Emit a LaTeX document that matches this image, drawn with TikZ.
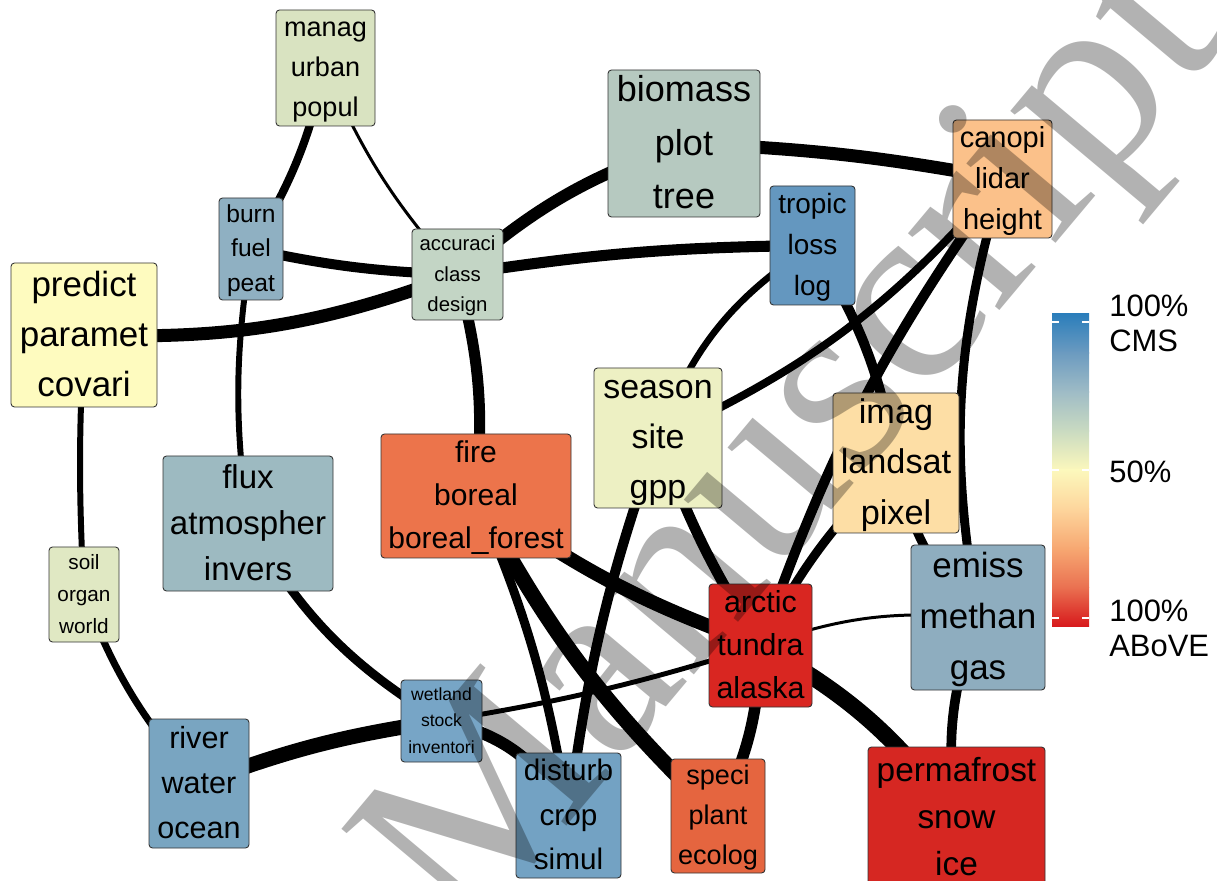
\documentclass[tikz,border=0pt]{standalone}
\usepackage{fontspec}
\setmainfont{Liberation Sans}
\newfontfamily\wmfont{Liberation Serif}
\usetikzlibrary{positioning}
\pgfdeclarelayer{background}
\pgfdeclarelayer{foreground}
\pgfsetlayers{background,main,foreground}

\definecolor{cManag}{HTML}{D9E3C1}
\definecolor{cBiomass}{HTML}{B6C9C0}
\definecolor{cCanopi}{HTML}{FBC18A}
\definecolor{cBurn}{HTML}{8FB0C2}
\definecolor{cAccuraci}{HTML}{C3D5C5}
\definecolor{cTropic}{HTML}{6497BF}
\definecolor{cPredict}{HTML}{FEFBBF}
\definecolor{cSeason}{HTML}{EDF0C3}
\definecolor{cImag}{HTML}{FDDEA5}
\definecolor{cFlux}{HTML}{9DBAC1}
\definecolor{cFire}{HTML}{EC744B}
\definecolor{cSoil}{HTML}{E0E8C3}
\definecolor{cEmiss}{HTML}{8EADBF}
\definecolor{cArctic}{HTML}{D92621}
\definecolor{cWetland}{HTML}{77A5C6}
\definecolor{cRiver}{HTML}{79A5C1}
\definecolor{cDisturb}{HTML}{73A2C3}
\definecolor{cSpeci}{HTML}{E5653F}
\definecolor{cPerma}{HTML}{D62722}
% colour bar stops, top to bottom
\definecolor{lg0}{HTML}{2B7EBB}
\definecolor{lg1}{HTML}{6C9BC0}
\definecolor{lg2}{HTML}{9FBCC6}
\definecolor{lg3}{HTML}{CADBC1}
\definecolor{lg4}{HTML}{FCF8BC}
\definecolor{lg5}{HTML}{FDD59C}
\definecolor{lg6}{HTML}{F7A872}
\definecolor{lg7}{HTML}{EA7151}
\definecolor{lg8}{HTML}{D7191C}

% three stemmed words, one per line, with fixed top and bottom
\newcommand{\kw}[3]{\rule{0pt}{0.88em}#1\\#2\\#3\rule[-0.24em]{0pt}{0pt}}

\begin{document}
\begin{tikzpicture}[x=0.02cm, y=-0.02cm,
    topic/.style={draw=black!80, rounded corners=2pt, line width=0.5pt, align=center, inner sep=0pt},
    box/.style 2 args={minimum width=#1*0.02cm, minimum height=#2*0.02cm},
    fs/.style 2 args={font=\fontsize{#1}{#2}\selectfont},
    link/.style={line width=#1}]
    \useasboundingbox (0,0) rectangle (1217,881);

    % topics
    \node[topic, box={99}{116}, fs={15.4}{22.8}, fill=cManag] (manag) at (325.5,68) {\kw{manag}{urban}{popul}};
    \node[topic, box={152}{147}, fs={20.5}{30.2}, fill=cBiomass] (biomass) at (684,143.5) {\kw{biomass}{plot}{tree}};
    \node[topic, box={99}{118}, fs={16.5}{23.3}, fill=cCanopi] (canopi) at (1002.5,179) {\kw{canopi}{lidar}{height}};
    \node[topic, box={64}{102}, fs={14}{19.6}, fill=cBurn] (burn) at (251,249) {\kw{burn}{fuel}{peat}};
    \node[topic, box={91}{91}, fs={11.6}{17.4}, fill=cAccuraci] (accuraci) at (457.5,274.5) {\kw{accuraci}{class}{design}};
    \node[topic, box={85}{119}, fs={15.9}{23.3}, fill=cTropic] (tropic) at (812.5,245.5) {\kw{tropic}{loss}{log}};
    \node[topic, box={146}{144}, fs={19.9}{28.5}, fill=cPredict] (predict) at (84,335) {\kw{predict}{paramet}{covari}};
    \node[topic, box={128}{140}, fs={19.3}{28.5}, fill=cSeason] (season) at (658,438) {\kw{season}{site}{gpp}};
    \node[topic, box={126}{140}, fs={19.5}{28.8}, fill=cImag] (imag) at (896,463) {\kw{imag}{landsat}{pixel}};
    \node[topic, box={170}{135}, fs={18.8}{26.2}, fill=cFlux] (flux) at (248,523.5) {\kw{flux}{atmospher}{invers}};
    \node[topic, box={190}{124}, fs={17.1}{24.5}, fill=cFire] (fire) at (476,496) {\kw{fire}{boreal}{boreal\_forest}};
    \node[topic, box={70}{95}, fs={11.8}{18.2}, fill=cSoil] (soil) at (84,594.5) {\kw{soil}{organ}{world}};
    \node[topic, box={134}{145}, fs={19.9}{29}, fill=cEmiss] (emiss) at (978,617.5) {\kw{emiss}{methan}{gas}};
    \node[topic, box={103}{123}, fs={17.3}{24.5}, fill=cArctic] (arctic) at (760.5,645.5) {\kw{arctic}{tundra}{alaska}};
    \node[topic, box={81}{82}, fs={10}{15.1}, fill=cWetland] (wetland) at (441.5,721) {\kw{wetland}{stock}{inventori}};
    \node[topic, box={100}{129}, fs={17.4}{25.6}, fill=cRiver] (river) at (199,783.5) {\kw{river}{water}{ocean}};
    \node[topic, box={105}{125}, fs={16.9}{25.3}, fill=cDisturb] (disturb) at (568.5,815.5) {\kw{disturb}{crop}{simul}};
    \node[topic, box={94}{114}, fs={15.4}{22.8}, fill=cSpeci] (speci) at (718,816) {\kw{speci}{plant}{ecolog}};
    \node[topic, box={177}{142}, fs={19}{26.7}, fill=cPerma] (permafrost) at (956.5,818) {\kw{permafrost}{snow}{ice}};

    % links, centre to centre, under the boxes
    \begin{pgfonlayer}{background}
    \draw[link=4.6pt] (manag.center) to[bend left=9] (burn.center);
    \draw[link=1.7pt] (manag.center) to[bend right=9] (accuraci.center);
    \draw[link=5.7pt] (burn.center) to[bend right=5] (accuraci.center);
    \draw[link=7.4pt] (predict.center) to[bend right=11] (accuraci.center);
    \draw[link=6.8pt] (accuraci.center) to[bend left=11] (biomass.center);
    \draw[link=6.3pt] (accuraci.center) to[bend left=4] (tropic.center);
    \draw[link=7.4pt] (biomass.center) to[bend left=4] (canopi.center);
    \draw[link=3.4pt] (burn.center) to[bend right=8] (flux.center);
    \draw[link=3.4pt] (predict.center) to[bend right=3] (soil.center);
    \draw[link=4pt] (soil.center) to[bend right=10] (river.center);
    \draw[link=5.1pt] (flux.center) to[bend right=14] (wetland.center);
    \draw[link=8.5pt] (river.center) to[bend left=6] (wetland.center);
    \draw[link=6.8pt] (wetland.center) to[bend left=25] (disturb.center);
    \draw[link=2.8pt] (wetland.center) to[bend right=4] (arctic.center);
    \draw[link=6.3pt] (accuraci.center) to[bend left=10] (fire.center);
    \draw[link=3.8pt] (season.center) to[bend left=18] (tropic.center);
    \draw[link=4.5pt] (season.center) to[bend right=12] (canopi.center);
    \draw[link=5.7pt] (tropic.center) to[bend left=11] (imag.center);
    \draw[link=5.7pt] (canopi.center) to[bend right=8] (arctic.center);
    \draw[link=5.1pt] (canopi.center) to[bend right=13] (emiss.center);
    \draw[link=5.1pt] (imag.center) to[bend right=9] (arctic.center);
    \draw[link=5.1pt] (imag.center) to[bend right=16] (emiss.center);
    \draw[link=8pt] (fire.center) to[bend right=8] (arctic.center);
    \draw[link=8.8pt] (fire.center) to[bend right=9] (speci.center);
    \draw[link=5.1pt] (fire.center) to[bend left=7] (disturb.center);
    \draw[link=5.7pt] (season.center) to[bend right=6] (disturb.center);
    \draw[link=6pt] (season.center) to[bend right=6] (arctic.center);
    \draw[link=1.7pt] (arctic.center) to[bend left=12] (emiss.center);
    \draw[link=6.5pt] (arctic.center) to[bend left=12] (speci.center);
    \draw[link=9.5pt] (arctic.center) to[bend left=12] (permafrost.center);
    \draw[link=5.5pt] (emiss.center) to[bend right=14] (permafrost.center);
    \end{pgfonlayer}

    % colour bar
    \foreach \ya/\yb/\ca/\cb in {314/353/lg0/lg1, 353/392/lg1/lg2, 392/431/lg2/lg3, 431/470/lg3/lg4,
                                 470/509/lg4/lg5, 509/548/lg5/lg6, 548/587/lg6/lg7, 587/626/lg7/lg8}
        \shade[top color=\ca, bottom color=\cb] (1052,\ya) rectangle (1089,\yb+0.5);
    \foreach \y in {322,470,618} {
        \draw[white, line width=0.6pt] (1052,\y) -- (1059,\y);
        \draw[white, line width=0.6pt] (1082,\y) -- (1089,\y);
    }
    \node[anchor=west, align=left, inner sep=0pt, fs={17.6}{20}] (cmslab) at (1109,323) {100\%\\CMS};
    \node[anchor=west, inner sep=0pt, fs={17.6}{20}] (midlab) at (1109,472) {50\%};
    \node[anchor=west, align=left, inner sep=0pt, fs={17.6}{20}] (abovelab) at (1109,628) {100\%\\ABoVE};

    % watermark
    \begin{pgfonlayer}{foreground}
    \begin{scope}
    \clip (0,0) rectangle (1217,881);
    \node[anchor=base west, rotate=50, inner sep=0pt, text=black, text opacity=0.3,
          font=\wmfont\fontsize{148}{148}\selectfont] (mark) at (467,945) {Manuscript};
    \end{scope}
    \end{pgfonlayer}
\end{tikzpicture}
\end{document}
